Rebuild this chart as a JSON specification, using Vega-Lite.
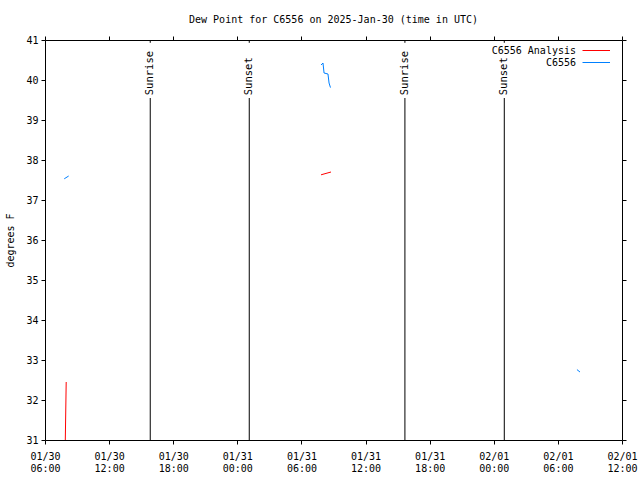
{
  "$schema": "https://vega.github.io/schema/vega-lite/v6.json",
  "width": 577,
  "height": 400,
  "autosize": "none",
  "padding": {"left": 45, "top": 40, "right": 18, "bottom": 40},
  "background": "white",
  "title": {"text": "Dew Point for C6556 on 2025-Jan-30 (time in UTC)", "font": "DejaVu Sans Mono", "fontSize": 10, "fontWeight": "normal", "color": "black", "anchor": "middle", "offset": 10},
  "config": {
    "view": {"stroke": "black", "strokeWidth": 1},
    "axis": {"grid": false, "domain": false, "tickColor": "black", "tickSize": 4, "labelColor": "black", "titleColor": "black", "labelFont": "DejaVu Sans Mono", "labelFontSize": 10, "titleFont": "DejaVu Sans Mono", "titleFontSize": 10, "titleFontWeight": "normal", "labelOverlap": false, "labelFlush": false},
    "text": {"font": "DejaVu Sans Mono", "fontSize": 10}
  },
  "datasets": {
    "obs": [
      {"series": "C6556 Analysis", "seg": "a1", "t": "2025-01-30T07:54:00Z", "v": 31.0},
      {"series": "C6556 Analysis", "seg": "a1", "t": "2025-01-30T07:59:00Z", "v": 32.45},
      {"series": "C6556 Analysis", "seg": "a2", "t": "2025-01-31T07:50:00Z", "v": 37.63},
      {"series": "C6556 Analysis", "seg": "a2", "t": "2025-01-31T08:46:00Z", "v": 37.7},
      {"series": "C6556", "seg": "b1", "t": "2025-01-30T07:48:00Z", "v": 37.53},
      {"series": "C6556", "seg": "b1", "t": "2025-01-30T08:13:00Z", "v": 37.6},
      {"series": "C6556", "seg": "b2", "t": "2025-01-31T07:50:00Z", "v": 40.375},
      {"series": "C6556", "seg": "b2", "t": "2025-01-31T08:01:00Z", "v": 40.425},
      {"series": "C6556", "seg": "b2", "t": "2025-01-31T08:07:00Z", "v": 40.175},
      {"series": "C6556", "seg": "b2", "t": "2025-01-31T08:29:00Z", "v": 40.15},
      {"series": "C6556", "seg": "b2", "t": "2025-01-31T08:35:00Z", "v": 39.925},
      {"series": "C6556", "seg": "b2", "t": "2025-01-31T08:43:00Z", "v": 39.81},
      {"series": "C6556", "seg": "b3", "t": "2025-02-01T07:47:00Z", "v": 32.76},
      {"series": "C6556", "seg": "b3", "t": "2025-02-01T08:04:00Z", "v": 32.7}
    ],
    "sun": [
      {"label": "Sunrise", "t": "2025-01-30T15:51:00Z"},
      {"label": "Sunset", "t": "2025-01-31T01:07:00Z"},
      {"label": "Sunrise", "t": "2025-01-31T15:41:00Z"},
      {"label": "Sunset", "t": "2025-02-01T00:59:00Z"}
    ]
  },
  "layer": [
    {
      "data": {"name": "obs"},
      "mark": {"type": "line", "strokeWidth": 1, "clip": true},
      "encoding": {
        "x": {"field": "t", "type": "temporal",
          "scale": {"type": "utc", "domain": [{"year": 2025, "month": 1, "date": 30, "hours": 6, "utc": true}, {"year": 2025, "month": 2, "date": 1, "hours": 12, "utc": true}], "nice": false},
          "axis": {"title": null, "orient": "bottom", "labelPadding": 7, "labelLineHeight": 12,
            "values": [
              {"year": 2025, "month": 1, "date": 30, "hours": 6, "utc": true},
              {"year": 2025, "month": 1, "date": 30, "hours": 12, "utc": true},
              {"year": 2025, "month": 1, "date": 30, "hours": 18, "utc": true},
              {"year": 2025, "month": 1, "date": 31, "hours": 0, "utc": true},
              {"year": 2025, "month": 1, "date": 31, "hours": 6, "utc": true},
              {"year": 2025, "month": 1, "date": 31, "hours": 12, "utc": true},
              {"year": 2025, "month": 1, "date": 31, "hours": 18, "utc": true},
              {"year": 2025, "month": 2, "date": 1, "hours": 0, "utc": true},
              {"year": 2025, "month": 2, "date": 1, "hours": 6, "utc": true},
              {"year": 2025, "month": 2, "date": 1, "hours": 12, "utc": true}
            ],
            "labelExpr": "[utcFormat(datum.value, '%m/%d'), utcFormat(datum.value, '%H:%M')]"}},
        "y": {"field": "v", "type": "quantitative",
          "scale": {"domain": [31, 41], "nice": false, "zero": false},
          "axis": {"title": "degrees F", "orient": "left", "values": [31, 32, 33, 34, 35, 36, 37, 38, 39, 40, 41], "format": "d", "labelPadding": 3, "titlePadding": 10}},
        "color": {"field": "series", "type": "nominal",
          "scale": {"domain": ["C6556 Analysis", "C6556"], "range": ["#ff0000", "#0080ff"]},
          "legend": {"title": null, "orient": "none", "legendX": 537, "legendY": 4.5, "padding": 0, "symbolType": "M-1,0H4", "symbolSize": 121, "symbolStrokeWidth": 1, "labelAlign": "right", "labelOffset": -18, "labelFont": "DejaVu Sans Mono", "labelFontSize": 10, "labelColor": "black", "rowPadding": 1}},
        "detail": {"field": "seg"},
        "order": {"field": "t", "type": "temporal"}
      }
    },
    {
      "data": {"name": "sun"},
      "mark": {"type": "rule", "color": "black", "strokeWidth": 1},
      "encoding": {
        "x": {"field": "t", "type": "temporal", "axis": {"orient": "top", "labels": false, "title": null, "values": [
              {"year": 2025, "month": 1, "date": 30, "hours": 6, "utc": true},
              {"year": 2025, "month": 1, "date": 30, "hours": 12, "utc": true},
              {"year": 2025, "month": 1, "date": 30, "hours": 18, "utc": true},
              {"year": 2025, "month": 1, "date": 31, "hours": 0, "utc": true},
              {"year": 2025, "month": 1, "date": 31, "hours": 6, "utc": true},
              {"year": 2025, "month": 1, "date": 31, "hours": 12, "utc": true},
              {"year": 2025, "month": 1, "date": 31, "hours": 18, "utc": true},
              {"year": 2025, "month": 2, "date": 1, "hours": 0, "utc": true},
              {"year": 2025, "month": 2, "date": 1, "hours": 6, "utc": true},
              {"year": 2025, "month": 2, "date": 1, "hours": 12, "utc": true}
            ]}},
        "y": {"datum": 31, "type": "quantitative", "axis": {"orient": "right", "labels": false, "title": null, "values": [31, 32, 33, 34, 35, 36, 37, 38, 39, 40, 41]}},
        "y2": {"datum": 39.55}
      }
    },
    {
      "data": {"name": "sun"},
      "mark": {"type": "rule", "color": "black", "strokeWidth": 1},
      "encoding": {
        "x": {"field": "t", "type": "temporal", "axis": null},
        "y": {"datum": 40.93, "type": "quantitative", "axis": null},
        "y2": {"datum": 41}
      }
    },
    {
      "data": {"name": "sun"},
      "mark": {"type": "text", "angle": 270, "align": "left", "baseline": "middle", "color": "black", "font": "DejaVu Sans Mono", "fontSize": 10.5},
      "encoding": {
        "x": {"field": "t", "type": "temporal", "axis": null},
        "y": {"datum": 39.62, "type": "quantitative", "axis": null},
        "text": {"field": "label"}
      }
    }
  ]
}
